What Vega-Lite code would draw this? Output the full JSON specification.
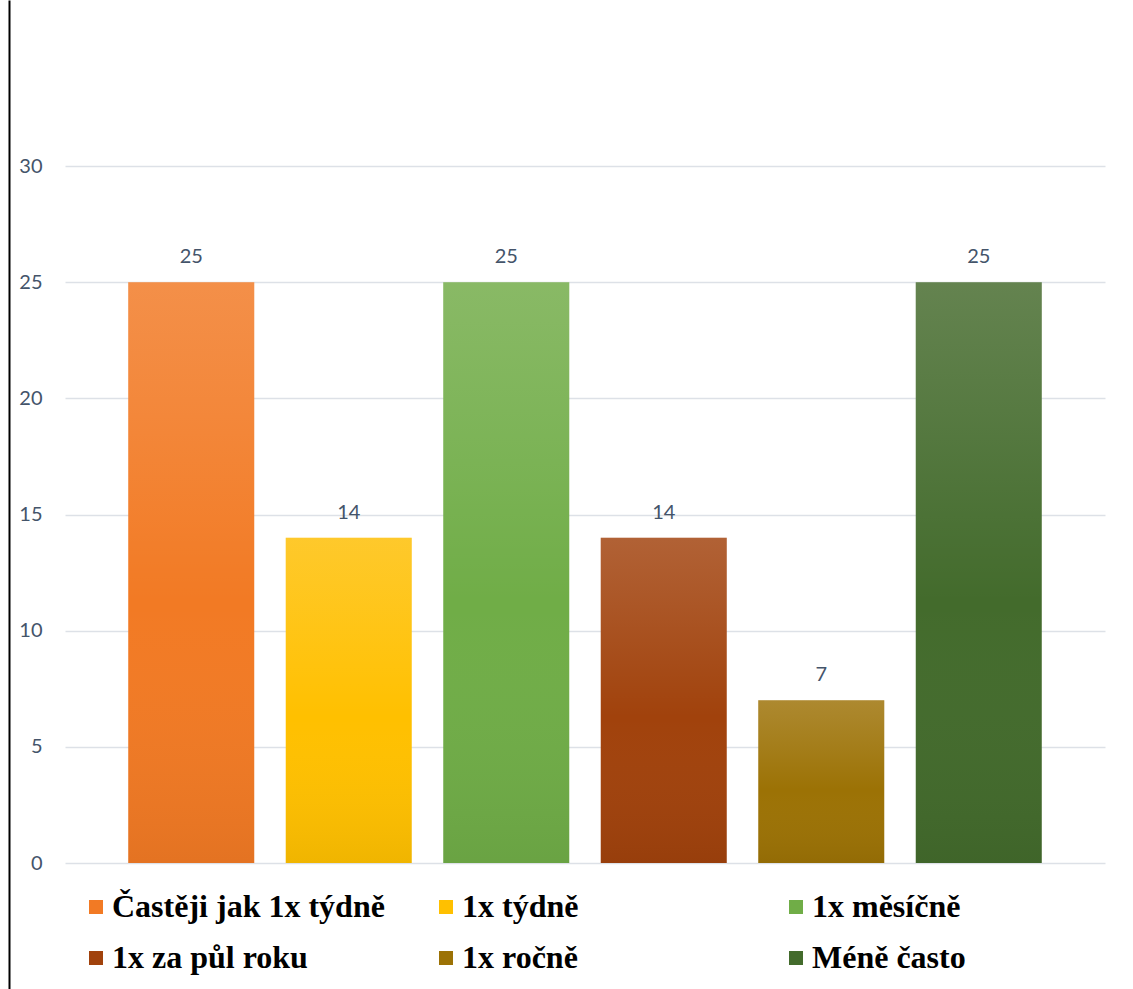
{
  "$schema": "https://vega.github.io/schema/vega-lite/v6.json",
  "width": 1040,
  "height": 989,
  "autosize": "none",
  "padding": {"left": 65, "top": 0, "right": 28, "bottom": 0},
  "background": "white",
  "config": {"view": {"stroke": null}, "font": "Lato"},
  "data": {
    "values": [
      {"cat": "Častěji jak 1x týdně", "v": 25},
      {"cat": "1x týdně", "v": 14},
      {"cat": "1x měsíčně", "v": 25},
      {"cat": "1x za půl roku", "v": 14},
      {"cat": "1x ročně", "v": 7},
      {"cat": "Méně často", "v": 25}
    ]
  },
  "encoding": {
    "x": {
      "field": "cat",
      "type": "nominal",
      "sort": null,
      "scale": {"paddingInner": 0.2, "paddingOuter": 0.4015},
      "axis": null
    },
    "y": {
      "field": "v",
      "type": "quantitative",
      "scale": {"domain": [-5.423, 37.145], "nice": false, "zero": false},
      "axis": {
        "values": [0, 5, 10, 15, 20, 25, 30],
        "title": null,
        "grid": true,
        "gridColor": "#DDE1E7",
        "gridWidth": 1.5,
        "ticks": false,
        "domain": true,
        "domainColor": "#000000",
        "domainWidth": 2,
        "offset": 56,
        "labelPadding": -33,
        "labelAlign": "right",
        "labelBaseline": "middle",
        "labelFont": "Lato",
        "labelFontSize": 20,
        "labelColor": "#44546A"
      }
    }
  },
  "layer": [
    {
      "mark": {"type": "bar", "strokeWidth": 0},
      "encoding": {
        "y2": {"datum": 0},
        "color": {
          "field": "cat",
          "type": "nominal",
          "sort": null,
          "scale": {
            "domain": ["Častěji jak 1x týdně", "1x týdně", "1x měsíčně", "1x za půl roku", "1x ročně", "Méně často"],
            "range": ["#F27A24", "#FFC000", "#70AD47", "#A1420C", "#9C7205", "#436B2C"]
          },
          "legend": {
            "orient": "none",
            "legendX": 15,
            "legendY": 891,
            "direction": "horizontal",
            "columns": 3,
            "gridAlign": "all",
            "title": null,
            "padding": 0,
            "symbolType": "square",
            "symbolSize": 196,
            "symbolStrokeWidth": 0,
            "symbolOpacity": 1,
            "labelFont": "Liberation Serif",
            "labelFontWeight": "bold",
            "labelFontSize": 32,
            "labelColor": "#000000",
            "labelOffset": 0,
            "labelLimit": 400,
            "columnPadding": 45,
            "rowPadding": 19
          }
        }
      }
    },
    {
      "mark": {
        "type": "bar",
        "strokeWidth": 0,
        "color": {
          "gradient": "linear",
          "x1": 0, "y1": 0, "x2": 0, "y2": 1,
          "stops": [
            {"offset": 0, "color": "rgba(250,240,240,0.18)"},
            {"offset": 0.55, "color": "rgba(255,255,255,0)"},
            {"offset": 1, "color": "rgba(0,0,0,0.06)"}
          ]
        }
      },
      "encoding": {"y2": {"datum": 0}}
    },
    {
      "mark": {"type": "text", "baseline": "alphabetic", "dy": -19, "fontSize": 20, "font": "Lato", "color": "#44546A"},
      "encoding": {
        "text": {"field": "v", "type": "quantitative"}
      }
    }
  ]
}
